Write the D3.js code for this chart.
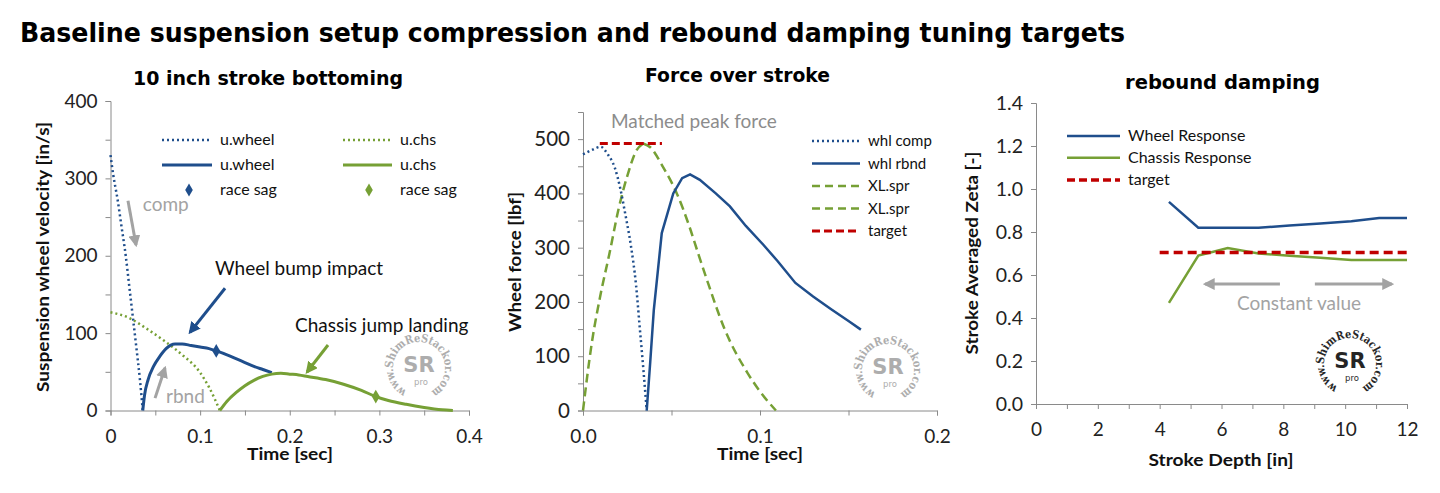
<!DOCTYPE html>
<html>
<head>
<meta charset="utf-8">
<script src="https://cdn.jsdelivr.net/npm/d3@7"></script>
<style>
  body { margin: 0; background: #fff; }
  svg { display: block; }
  .tick text { font-family: Lato, "Noto Sans", sans-serif; fill: #222; }
  .axis path, .axis line { stroke: #8a8a8a; }
</style>
</head>
<body>
<svg id="chart" width="1440" height="493"></svg>
<script>
//########## data ##########

// chart 1: 10 inch stroke bottoming (time [s], velocity [in/s])
const wheelCompT = [0, 0.003, 0.008, 0.012, 0.017, 0.021, 0.025, 0.029, 0.033, 0.036];
const wheelCompV = [330, 305, 272, 240, 200, 160, 120, 80, 38, 0];
const chsCompT = [0, 0.02, 0.04, 0.06, 0.08, 0.1, 0.11, 0.122];
const chsCompV = [127, 120, 106, 90, 72, 49, 30, 0];
const wheelRbndT = [0.036, 0.038, 0.042, 0.048, 0.055, 0.062, 0.072, 0.08, 0.09, 0.1, 0.11, 0.118, 0.13, 0.14, 0.15, 0.16, 0.17, 0.18];
const wheelRbndV = [0, 20, 40, 57, 70, 80, 86, 86, 84, 82, 80, 77, 72, 67, 62, 57, 53, 49];
const chsRbndT = [0.122, 0.13, 0.14, 0.15, 0.16, 0.17, 0.18, 0.19, 0.2, 0.21, 0.22, 0.24, 0.26, 0.28, 0.296, 0.31, 0.33, 0.35, 0.37, 0.382];
const chsRbndV = [0, 12, 23, 32, 39, 44, 47, 48, 47, 46, 44, 40, 34, 26, 18, 13, 8, 4, 1, 0];
const raceSagWheel = [0.118, 77];
const raceSagChs = [0.296, 18];

// chart 2: force over stroke (time [s], force [lbf])
const whlCompT = [0, 0.005, 0.01, 0.014, 0.018, 0.021, 0.024, 0.027, 0.03, 0.032, 0.034, 0.036];
const whlCompF = [472, 480, 486, 472, 447, 410, 360, 305, 230, 155, 80, 0];
const whlRbndT = [0.036, 0.038, 0.04, 0.0445, 0.051, 0.056, 0.0605, 0.066, 0.075, 0.083, 0.092, 0.102, 0.11, 0.12, 0.13, 0.14, 0.15, 0.157];
const whlRbndF = [0, 90, 185, 327, 400, 428, 435, 425, 400, 376, 340, 305, 275, 235, 210, 187, 165, 149];
const sprUpT = [0, 0.005, 0.01, 0.015, 0.02, 0.025, 0.03, 0.034];
const sprUpF = [0, 125, 215, 290, 370, 432, 478, 492];
const sprDownT = [0.034, 0.038, 0.045, 0.053, 0.06, 0.065, 0.07, 0.08, 0.093, 0.1, 0.109];
const sprDownF = [492, 485, 450, 400, 340, 290, 241, 150, 69, 35, 0];
const targetForceT = [0.0095, 0.0446];
const targetForceF = [492, 492];

// chart 3: rebound damping (stroke [in], zeta)
const strokeDepth = [4.3, 5.25, 6.2, 7.2, 8.2, 9.2, 10.2, 11.1, 12];
const wheelZeta = [0.94, 0.82, 0.82, 0.82, 0.83, 0.84, 0.85, 0.865, 0.865];
const chassisZeta = [0.47, 0.69, 0.725, 0.70, 0.69, 0.68, 0.67, 0.67, 0.67];
const targetDepth = [4, 12];
const targetZeta = [0.705, 0.705];

// tick labels
const c1XTicks = [0, 0.05, 0.1, 0.15, 0.2, 0.25, 0.3, 0.35, 0.4];
const c1YTicks = [0, 50, 100, 150, 200, 250, 300, 350, 400];
const c2XTicks = [0, 0.05, 0.1, 0.15, 0.2];
const c2YTicks = [0, 50, 100, 150, 200, 250, 300, 350, 400, 450, 500, 550];
const c3XTicks = [0, 1, 2, 3, 4, 5, 6, 7, 8, 9, 10, 11, 12];
const c3YTicks = [0, 0.2, 0.4, 0.6, 0.8, 1.0, 1.2, 1.4];

//########## styles ##########
const BLUE = "#1f4e8c";
const GREEN = "#76a035";
const RED = "#c00000";
const GRAY = "#a3a3a3";
const TXT = "Lato, 'Noto Sans', sans-serif";
const HEAVY = "'DejaVu Sans', sans-serif";

const svg = d3.select("#chart");
const defs = svg.append("defs");

function arrowMarker(id, color) {
  defs.append("marker")
    .attr("id", id)
    .attr("viewBox", "0 0 10 10")
    .attr("refX", 8).attr("refY", 5)
    .attr("markerWidth", 12).attr("markerHeight", 12)
    .attr("markerUnits", "userSpaceOnUse")
    .attr("orient", "auto")
    .append("path")
    .attr("d", "M0,0 L10,5 L0,10 Z")
    .attr("fill", color);
}
arrowMarker("arGray", GRAY);
arrowMarker("arBlue", BLUE);
arrowMarker("arGreen", GREEN);

function pairs(xs, ys) {
  return xs.map((x, i) => [x, ys[i]]);
}

function drawSeries(g, x, y, xs, ys, style) {
  const line = d3.line()
    .x((d) => x(d[0]))
    .y((d) => y(d[1]))
    .curve(style.curve || d3.curveLinear);
  g.append("path")
    .datum(pairs(xs, ys))
    .attr("d", line)
    .attr("fill", "none")
    .attr("stroke", style.color)
    .attr("stroke-width", style.width || 2.5)
    .attr("stroke-dasharray", style.dash || null)
    .attr("stroke-linecap", style.cap || "butt");
}

function diamond(g, cx, cy, color, size) {
  g.append("path")
    .attr("d", d3.symbol().type(d3.symbolDiamond).size(size || 50)())
    .attr("transform", `translate(${cx},${cy})`)
    .attr("fill", color);
}

function arrow(g, x1, y1, x2, y2, color, marker) {
  g.append("line")
    .attr("x1", x1).attr("y1", y1)
    .attr("x2", x2).attr("y2", y2)
    .attr("stroke", color)
    .attr("stroke-width", 3)
    .attr("marker-end", `url(#${marker})`);
}

function label(g, x, y, text, opts) {
  const t = g.append("text")
    .attr("x", x).attr("y", y)
    .attr("font-family", opts.family || TXT)
    .attr("font-size", opts.size || 15)
    .attr("font-weight", opts.weight || "normal")
    .attr("fill", opts.color || "#111")
    .attr("text-anchor", opts.anchor || "start")
    .attr("transform", opts.rotate ? `rotate(-90,${x},${y})` : null)
    .text(text);
  if (opts.len) t.attr("textLength", opts.len).attr("lengthAdjust", "spacingAndGlyphs");
  return t;
}

function drawAxes(x, y, xTicks, yTicks, xFmt, yFmt, fontX, fontY) {
  const bottom = y.range()[0];
  const left = x.range()[0];
  const gx = svg.append("g")
    .attr("class", "axis")
    .attr("transform", `translate(0,${bottom})`)
    .call(d3.axisBottom(x).tickValues(xTicks).tickFormat(xFmt).tickSizeOuter(0).tickSize(5).tickPadding(14));
  const gy = svg.append("g")
    .attr("class", "axis")
    .attr("transform", `translate(${left},0)`)
    .call(d3.axisLeft(y).tickValues(yTicks).tickFormat(yFmt).tickSizeOuter(0).tickSize(5).tickPadding(8));
  gx.selectAll("text").attr("font-size", fontX).attr("font-family", TXT);
  gy.selectAll("text").attr("font-size", fontY).attr("font-family", TXT);
  gx.select(".domain").attr("stroke", "#8a8a8a");
  gy.select(".domain").attr("stroke", "#8a8a8a");
}

function legendLine(g, x1, x2, yy, text, style) {
  g.append("line")
    .attr("x1", x1).attr("x2", x2)
    .attr("y1", yy).attr("y2", yy)
    .attr("stroke", style.color)
    .attr("stroke-width", style.width || 2.5)
    .attr("stroke-dasharray", style.dash || null);
  label(g, x2 + 8, yy + 5, text, { size: style.size || 16 });
}

function drawLogo(cx, cy, color, idx) {
  const g = svg.append("g").attr("opacity", 0.95);
  const r = 26;
  const a0 = (118 * Math.PI) / 180;
  const a1 = (62 * Math.PI) / 180;
  const id = `logoPath${idx}`;
  defs.append("path")
    .attr("id", id)
    .attr("d", `M${cx + r * Math.cos(a0)},${cy + r * Math.sin(a0)} A${r},${r} 0 1 1 ${cx + r * Math.cos(a1)},${cy + r * Math.sin(a1)}`);
  g.append("text")
    .attr("font-family", "'DejaVu Serif', serif")
    .attr("font-weight", "bold")
    .attr("font-size", 11.5)
    .attr("fill", color)
    .append("textPath")
    .attr("href", `#${id}`)
    .attr("textLength", 2 * Math.PI * r * (304 / 360))
    .attr("lengthAdjust", "spacingAndGlyphs")
    .text("www.ShimReStackor.com");
  g.append("text")
    .attr("x", cx).attr("y", cy + 4)
    .attr("text-anchor", "middle")
    .attr("font-family", "'DejaVu Sans', sans-serif")
    .attr("font-weight", "bold")
    .attr("font-size", 21)
    .attr("fill", color)
    .text("SR");
  g.append("text")
    .attr("x", cx + 2).attr("y", cy + 17)
    .attr("text-anchor", "middle")
    .attr("font-family", "'DejaVu Sans', sans-serif")
    .attr("font-size", 8.5)
    .attr("fill", color)
    .text("pro");
}

//########## titles ##########
label(svg, 20, 42, "Baseline suspension setup compression and rebound damping tuning targets", {
  family: HEAVY, size: 27, weight: "bold", color: "#000", len: 1105
});
label(svg, 133, 85, "10 inch stroke bottoming", { family: HEAVY, size: 19, weight: "bold", color: "#000", len: 270 });
label(svg, 645, 82, "Force over stroke", { family: HEAVY, size: 19, weight: "bold", color: "#000", len: 185 });
label(svg, 1125, 89, "rebound damping", { family: HEAVY, size: 19, weight: "bold", color: "#000", len: 195 });

//########## chart 1 ##########
const x1 = d3.scaleLinear().domain([0, 0.4]).range([110.5, 469]);
const y1 = d3.scaleLinear().domain([0, 400]).range([410.5, 101]);
drawAxes(x1, y1, c1XTicks, c1YTicks,
  (d, i) => (i % 2 ? "" : d === 0 ? "0" : d3.format(".1f")(d)),
  (d, i) => (i % 2 ? "" : d),
  19, 19);
const g1 = svg.append("g");
label(g1, 49, 257, "Suspension wheel velocity [in/s]", { size: 17, weight: "bold", anchor: "middle", rotate: true, len: 270 });
label(g1, 290, 460, "Time [sec]", { size: 17, weight: "bold", anchor: "middle", len: 86 });

drawLogo(419, 368, "#a9a9a9", 1);

drawSeries(g1, x1, y1, wheelCompT, wheelCompV, { color: BLUE, dash: "2,3", curve: d3.curveMonotoneX });
drawSeries(g1, x1, y1, chsCompT, chsCompV, { color: GREEN, dash: "2,3", curve: d3.curveMonotoneX });
drawSeries(g1, x1, y1, wheelRbndT, wheelRbndV, { color: BLUE, width: 3, curve: d3.curveMonotoneX });
drawSeries(g1, x1, y1, chsRbndT, chsRbndV, { color: GREEN, width: 3, curve: d3.curveMonotoneX });
diamond(g1, x1(raceSagWheel[0]), y1(raceSagWheel[1]), BLUE, 55);
diamond(g1, x1(raceSagChs[0]), y1(raceSagChs[1]), GREEN, 55);

legendLine(g1, 162, 212, 140, "u.wheel", { color: BLUE, dash: "2,3" });
legendLine(g1, 162, 212, 165, "u.wheel", { color: BLUE, width: 3 });
diamond(g1, 189, 190, BLUE, 50);
label(g1, 220, 195, "race sag", { size: 16 });
legendLine(g1, 343, 392, 140, "u.chs", { color: GREEN, dash: "2,3" });
legendLine(g1, 343, 392, 165, "u.chs", { color: GREEN, width: 3 });
diamond(g1, 369, 190, GREEN, 50);
label(g1, 400, 195, "race sag", { size: 16 });

// annotations (data units)
label(g1, x1(0.036), y1(258), "comp", { size: 19, color: GRAY });
arrow(g1, x1(0.0195), y1(271), x1(0.0285), y1(214), GRAY, "arGray");
label(g1, x1(0.0619), y1(10), "rbnd", { size: 19, color: GRAY });
arrow(g1, x1(0.0497), y1(16), x1(0.0608), y1(55), GRAY, "arGray");
label(g1, x1(0.1166), y1(175), "Wheel bump impact", { size: 19 });
arrow(g1, x1(0.1278), y1(158), x1(0.0887), y1(101), BLUE, "arBlue");
label(g1, x1(0.2059), y1(101), "Chassis jump landing", { size: 19 });
arrow(g1, x1(0.2427), y1(84.6), x1(0.2193), y1(49.7), GREEN, "arGreen");

//########## chart 2 ##########
const x2 = d3.scaleLinear().domain([0, 0.2]).range([583, 937]);
const y2 = d3.scaleLinear().domain([0, 550]).range([410.5, 112]);
drawAxes(x2, y2, c2XTicks, c2YTicks,
  (d, i) => (i % 2 ? "" : d3.format(".1f")(d)),
  (d, i) => (i % 2 ? "" : d),
  19, 20.5);
const g2 = svg.append("g");
label(g2, 521, 262, "Wheel force [lbf]", { size: 17, weight: "bold", anchor: "middle", rotate: true, len: 140 });
label(g2, 760, 460, "Time [sec]", { size: 17, weight: "bold", anchor: "middle", len: 86 });

drawLogo(888, 370, "#a9a9a9", 2);

drawSeries(g2, x2, y2, sprUpT, sprUpF, { color: GREEN, dash: "9,5", curve: d3.curveMonotoneX });
drawSeries(g2, x2, y2, sprDownT, sprDownF, { color: GREEN, dash: "9,5", curve: d3.curveMonotoneX });
drawSeries(g2, x2, y2, whlCompT, whlCompF, { color: BLUE, dash: "2,3", curve: d3.curveMonotoneX });
drawSeries(g2, x2, y2, whlRbndT, whlRbndF, { color: BLUE, width: 2.5 });
drawSeries(g2, x2, y2, targetForceT, targetForceF, { color: RED, dash: "8,4", width: 3 });

label(g2, x2(0.0158), y2(520), "Matched peak force", { size: 19, color: "#8c8c8c" });

const legRows2 = [141, 163.5, 186, 208.5, 231];
legendLine(g2, 812, 860, legRows2[0], "whl comp", { color: BLUE, dash: "2,3", size: 15 });
legendLine(g2, 812, 860, legRows2[1], "whl rbnd", { color: BLUE, size: 15 });
legendLine(g2, 812, 860, legRows2[2], "XL.spr", { color: GREEN, dash: "8,5", size: 15 });
legendLine(g2, 812, 860, legRows2[3], "XL.spr", { color: GREEN, dash: "8,5", size: 15 });
legendLine(g2, 812, 860, legRows2[4], "target", { color: RED, dash: "8,4", width: 3, size: 15 });

//########## chart 3 ##########
const x3 = d3.scaleLinear().domain([0, 12]).range([1036, 1407]);
const y3 = d3.scaleLinear().domain([0, 1.4]).range([404, 103]);
drawAxes(x3, y3, c3XTicks, c3YTicks,
  (d, i) => (i % 2 ? "" : d),
  (d) => d3.format(".1f")(d),
  19, 19.5);
const g3 = svg.append("g");
label(g3, 978, 253, "Stroke Averaged Zeta [-]", { size: 17, weight: "bold", anchor: "middle", rotate: true, len: 203 });
label(g3, 1221, 466, "Stroke Depth [in]", { size: 17, weight: "bold", anchor: "middle", len: 145 });

drawLogo(1350, 364, "#1a1a1a", 3);

drawSeries(g3, x3, y3, strokeDepth, wheelZeta, { color: BLUE });
drawSeries(g3, x3, y3, strokeDepth, chassisZeta, { color: GREEN });
drawSeries(g3, x3, y3, targetDepth, targetZeta, { color: RED, dash: "9,5", width: 3.5 });

legendLine(g3, 1067, 1120, 136, "Wheel Response", { color: BLUE });
legendLine(g3, 1067, 1120, 157.7, "Chassis Response", { color: GREEN });
legendLine(g3, 1067, 1120, 180, "target", { color: RED, dash: "8,4", width: 3.5 });

label(g3, x3(6.5), y3(0.437), "Constant value", { size: 19, color: GRAY });
arrow(g3, x3(7.89), y3(0.558), x3(5.47), y3(0.558), GRAY, "arGray");
arrow(g3, x3(9.02), y3(0.558), x3(11.51), y3(0.558), GRAY, "arGray");
</script>
</body>
</html>
